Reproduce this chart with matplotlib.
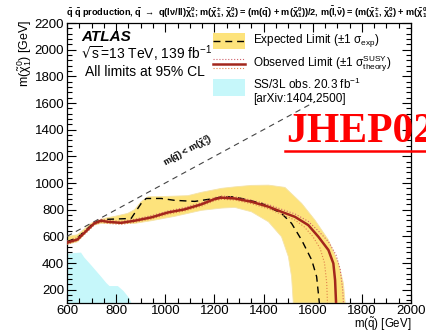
import numpy as np
import matplotlib
matplotlib.use('Agg')
import matplotlib.pyplot as plt
from matplotlib.lines import Line2D
from matplotlib.patches import Rectangle

plt.rcParams['font.family'] = ['Liberation Sans', 'DejaVu Sans']
plt.rcParams['mathtext.default'] = 'regular'

# observed limit (GeV)
obs_x = [600, 643, 711, 739, 766, 820, 875, 943, 1011, 1078, 1147, 1200, 1229, 1283,
         1351, 1420, 1473, 1528, 1582, 1623, 1664, 1684, 1691, 1695]
obs_y = [552, 577, 697, 717, 709, 701, 717, 742, 779, 802, 840, 879, 890, 884,
         859, 822, 784, 746, 684, 597, 497, 397, 272, 100]

# observed +1 sigma theory
obs_up_x = [600, 643, 711, 739, 766, 820, 875, 943, 1011, 1078, 1147, 1200, 1229, 1283,
            1351, 1420, 1473, 1528, 1582, 1623, 1664, 1695, 1712, 1722, 1725]
obs_up_y = [565, 590, 710, 728, 720, 712, 728, 755, 790, 815, 852, 890, 902, 896,
            872, 838, 803, 768, 712, 640, 560, 460, 350, 200, 100]

# observed -1 sigma theory
obs_dn_x = [600, 643, 711, 739, 766, 820, 875, 943, 1011, 1078, 1147, 1200, 1229, 1283,
            1351, 1420, 1473, 1528, 1565, 1600, 1630, 1648, 1657, 1660]
obs_dn_y = [540, 565, 684, 705, 697, 689, 705, 730, 766, 790, 826, 866, 878, 872,
            845, 806, 765, 722, 672, 600, 510, 400, 250, 100]

# expected limit
exp_x = [600, 643, 711, 752, 800, 861, 902, 922, 984, 1038, 1120, 1200, 1229, 1283,
         1392, 1473, 1514, 1555, 1596, 1616, 1627]
exp_y = [560, 590, 705, 727, 730, 734, 847, 884, 884, 870, 862, 884, 896, 896,
         847, 772, 697, 572, 422, 297, 100]

# expected +-1 sigma band edges
band_up_x = [600, 643, 700, 752, 800, 847, 875, 902, 929, 1011, 1092, 1147, 1229, 1283,
             1350, 1420, 1487, 1555, 1609, 1664, 1705, 1725, 1732]
band_up_y = [598, 612, 700, 735, 752, 772, 800, 860, 896, 900, 905, 930, 960, 971,
             982, 984, 967, 847, 722, 572, 397, 247, 100]
band_dn_x = [600, 643, 700, 739, 875, 943, 1038, 1147, 1230, 1283, 1351, 1420, 1473,
             1501, 1514, 1521]
band_dn_y = [540, 559, 680, 697, 697, 717, 750, 795, 812, 817, 784, 709, 597,
             447, 297, 100]

# SS/3L 20.3 fb-1 observed exclusion
ss3l_x = [600, 600, 630, 657, 670, 700, 739, 760, 773, 807, 830, 854, 862]
ss3l_y = [100, 467, 475, 478, 442, 380, 297, 250, 227, 227, 190, 135, 100]

diag_x = [600, 1610]

W, H = 426, 333
fig = plt.figure(figsize=(W / 100, H / 100), dpi=100)
ax = fig.add_axes([67 / W, 30 / H, 344 / W, 280 / H])

ax.fill(ss3l_x, ss3l_y, color='#c6f7fa', lw=0, zorder=1)
ax.fill(np.concatenate([band_up_x, band_dn_x[::-1]]),
        np.concatenate([band_up_y, band_dn_y[::-1]]),
        color='#fde37c', ec='#f5e3a8', lw=0.6, zorder=2)
ax.plot(diag_x, diag_x, color='#444444', lw=0.8, ls=(0, (5, 4)), zorder=3)
ax.plot(exp_x, exp_y, color='black', lw=1.0, ls=(0, (5, 3.5)), zorder=4)
ax.plot(obs_up_x, obs_up_y, color='#d0606a', lw=0.8, ls=':', zorder=4)
ax.plot(obs_dn_x, obs_dn_y, color='#e0804a', lw=0.8, ls=':', zorder=4)
ax.plot(obs_x, obs_y, color='#a3261c', lw=1.8, zorder=5)

ax.set_xlim(600, 2000)
ax.set_ylim(100, 2200)
ax.set_xticks(np.arange(600, 2001, 200))
ax.set_xticks(np.arange(600, 2001, 50), minor=True)
ax.set_yticks(np.arange(200, 2201, 200))
ax.set_yticks(np.arange(120, 2201, 40), minor=True)
ax.tick_params(which='both', direction='in', top=True, right=True, labelsize=9.5,
               width=0.8, pad=2)
ax.tick_params(axis='x', which='both', pad=1.2)
ax.tick_params(which='major', length=6.5)
ax.tick_params(which='minor', length=3.5)
for s in ax.spines.values():
    s.set_linewidth(0.9)

def px(x, y):
    return x / W, 1 - y / H

fig.text(*px(411, 324.5), r'm($\tilde{q}$) [GeV]', ha='right', va='center', fontsize=8.3)
fig.text(*px(25, 20), r'm($\tilde{\chi}_1^0$) [GeV]', rotation=90, ha='center', va='top',
         fontsize=9)

title = (r'$\tilde{q}$ $\tilde{q}$ production, $\tilde{q}$ $\rightarrow$ '
         r'q(l$\nu$/ll)$\tilde{\chi}_1^0$; m($\tilde{\chi}_1^{\pm}$, $\tilde{\chi}_2^0$) = '
         r'(m($\tilde{q}$) + m($\tilde{\chi}_1^0$))/2, m($\tilde{l}$,$\tilde{\nu}$) = '
         r'(m($\tilde{\chi}_1^{\pm}$, $\tilde{\chi}_2^0$) + m($\tilde{\chi}_1^0$))/2')
fig.text(*px(66, 12), title, ha='left', va='center', fontsize=6.6, fontweight='bold')

fig.text(*px(81, 37), 'ATLAS', fontsize=11, fontweight='bold', style='italic',
         ha='left', va='center')
fig.text(*px(81, 54), r'$\sqrt{s}$=13 TeV, 139 fb$^{-1}$', fontsize=10, ha='left', va='center')
fig.text(*px(85, 72), 'All limits at 95% CL', fontsize=10, ha='left', va='center')

fig.text(*px(188, 152), r'm($\tilde{q}$) < m($\tilde{\chi}_1^0$)', fontsize=6.5,
         fontweight='bold', rotation=29, ha='center', va='center')

# legend
lx0, lx1 = 213, 245
fig.add_artist(Rectangle(px(lx0, 49), (lx1 - lx0) / W, 16 / H, color='#fde37c', lw=0))
fig.add_artist(Line2D([lx0 / W, lx1 / W], [1 - 41 / H] * 2, color='black', lw=1.0,
                      ls=(0, (5, 3.5))))
fig.text(*px(253, 41), r'Expected Limit ($\pm$1 $\sigma_{exp}$)', fontsize=8.5,
         ha='left', va='center')
fig.add_artist(Line2D([lx0 / W, lx1 / W], [1 - 63.5 / H] * 2, color='#a3261c', lw=1.8))
fig.add_artist(Line2D([lx0 / W, lx1 / W], [1 - 59 / H] * 2, color='#d0606a', lw=0.8, ls=':'))
fig.add_artist(Line2D([lx0 / W, lx1 / W], [1 - 68 / H] * 2, color='#e0804a', lw=0.8, ls=':'))
fig.text(*px(253, 64), r'Observed Limit ($\pm$1 $\sigma_{theory}^{SUSY}$)', fontsize=8.5,
         ha='left', va='center')
fig.add_artist(Rectangle(px(lx0, 96), (lx1 - lx0) / W, 17 / H, color='#c6f7fa', lw=0))
fig.text(*px(253, 84), r'SS/3L obs. 20.3 fb$^{-1}$', fontsize=8.5, ha='left', va='center')
fig.text(*px(253, 99), '[arXiv:1404.2500]', fontsize=8.5, ha='left', va='center')

# journal stamp
fig.text(*px(286, 142), 'JHEP02', family='Liberation Serif', fontweight='bold',
         fontsize=30, color='red', ha='left', va='baseline')
fig.add_artist(Line2D([285 / W, 1.0], [1 - 151 / H] * 2, color='red', lw=1.8))

fig.savefig('out.png', dpi=100)
